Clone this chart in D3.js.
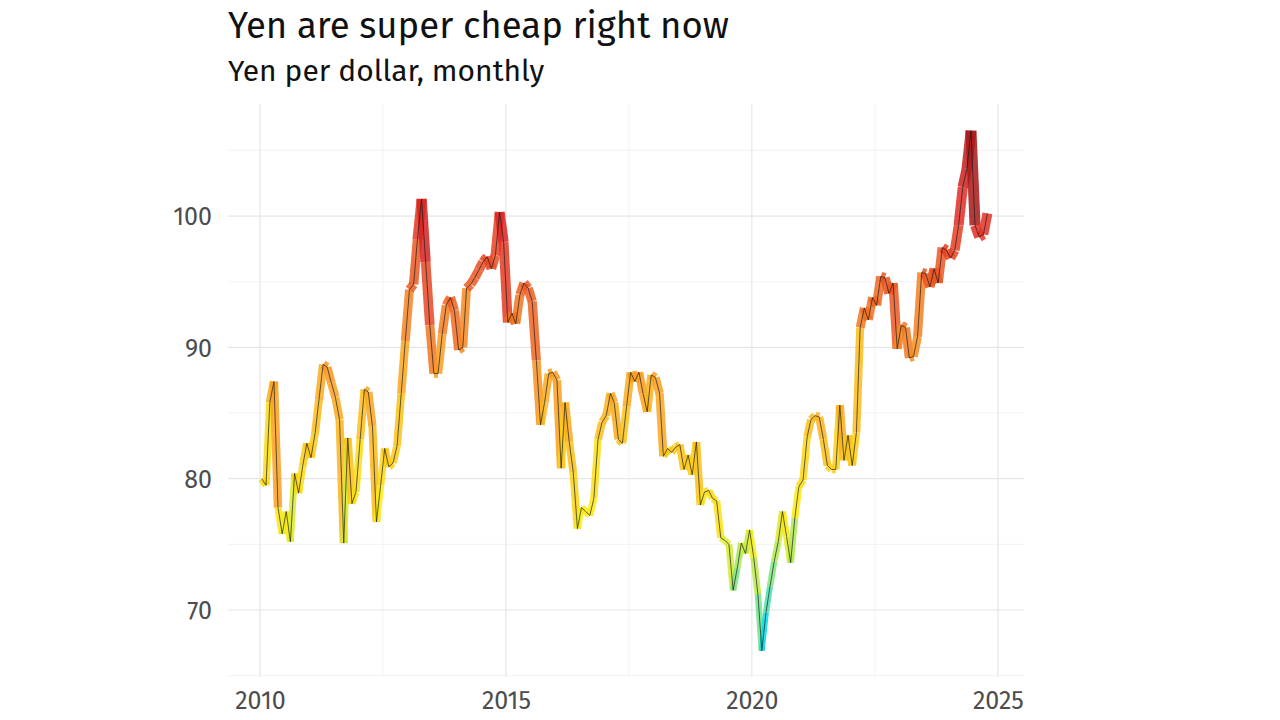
<!DOCTYPE html>
<html>
<head>
<meta charset="utf-8">
<script src="https://cdn.jsdelivr.net/npm/d3@7"></script>
<style>
  html, body { margin: 0; padding: 0; background: #ffffff; }
  svg { display: block; }
</style>
</head>
<body>
<svg id="chart" width="1280" height="720"></svg>
<script>
// ---- data -------------------------------------------------------------
const titleText = "Yen are super cheap right now";
const subtitleText = "Yen per dollar, monthly";
const firstMonth = "2010-01-15";
const yenValues = [
  80.0, 79.5, 85.8, 87.4, 77.8, 75.8, 77.5, 75.2, 80.4, 78.9, 81.0, 82.7,   // 2010
  81.6, 83.5, 86.0, 88.7, 88.5, 87.3, 86.2, 84.5, 75.1, 83.1, 78.1, 79.0,   // 2011
  83.0, 86.8, 86.6, 84.0, 76.7, 79.5, 82.3, 80.9, 81.2, 82.5, 86.5, 90.5,   // 2012
  94.4, 94.8, 98.2, 101.3, 96.5, 91.7, 88.0, 88.0, 91.0, 93.2, 93.8, 92.8,  // 2013
  89.8, 90.0, 94.5, 94.8, 95.3, 95.9, 96.5, 96.9, 96.0, 97.0, 100.3, 98.0,  // 2014
  91.9, 92.6, 91.8, 94.0, 94.9, 94.5, 93.5, 89.0, 84.1, 85.8, 88.0, 88.1,   // 2015
  87.5, 80.8, 85.8, 82.8, 80.5, 76.2, 77.8, 77.5, 77.2, 78.5, 83.0, 84.3,   // 2016
  84.8, 86.5, 85.8, 83.0, 82.7, 85.5, 88.1, 87.4, 88.1, 86.5, 85.1, 87.9,   // 2017
  87.7, 86.5, 81.7, 82.3, 82.0, 82.4, 82.6, 80.7, 81.8, 80.3, 82.8, 78.0,   // 2018
  79.0, 79.1, 78.5, 78.3, 75.5, 75.3, 75.0, 71.5, 73.2, 75.1, 74.3, 76.1,   // 2019
  74.0, 71.2, 66.9, 69.8, 71.8, 73.7, 75.2, 77.5, 75.6, 73.6, 77.0, 79.4,   // 2020
  79.9, 83.2, 84.5, 84.8, 84.7, 83.0, 81.0, 80.7, 80.7, 85.6, 81.4, 83.3,   // 2021
  81.0, 83.5, 91.5, 93.0, 92.1, 93.8, 93.2, 95.4, 95.3, 94.1, 94.9, 89.9,   // 2022
  91.7, 91.5, 89.2, 89.3, 90.8, 95.7, 95.6, 94.6, 96.0, 94.9, 97.6, 97.4,   // 2023
  96.8, 97.4, 99.3, 102.2, 103.6, 106.5, 99.3, 98.4, 98.6, 100.2            // 2024
];
const yTickValues = [70, 80, 90, 100];
const yMinorValues = [65, 75, 85, 95, 105];
const xTickYears = [2010, 2015, 2020, 2025];
const xMinorYears = [2012.5, 2017.5, 2022.5];
const colorStops = [67, 76.5, 88, 100, 106.5];
const colorRange = ["#00dbe8", "#fbee10", "#fa9c20", "#e02424", "#a81818"];

// ---- layout -----------------------------------------------------------
const svg = d3.select("#chart");
const panel = { left: 228, right: 1024, top: 104, bottom: 677 };
const fontFam = "'Fira Sans', 'Noto Sans', 'Open Sans', sans-serif";

const start = new Date(firstMonth);
const data = yenValues.map((v, i) => ({ date: d3.timeMonth.offset(start, i), value: v }));

const yearDate = y => {
  const yr = Math.floor(y);
  const frac = y - yr;
  const a = new Date(yr, 0, 1), b = new Date(yr + 1, 0, 1);
  return new Date(+a + frac * (b - a));
};

const x = d3.scaleTime()
  .domain([yearDate(2009.35), yearDate(2025.53)])
  .range([panel.left, panel.right]);
const y = d3.scaleLinear()
  .domain([64.9, 108.53])
  .range([panel.bottom, panel.top]);
const color = d3.scaleLinear().domain(colorStops).range(colorRange).clamp(true);
const width = d3.scaleLinear().domain([67, 106.5]).range([5.8, 11]);

// ---- grid -------------------------------------------------------------
const grid = svg.append("g");
grid.selectAll(".ymin").data(yMinorValues).join("line")
  .attr("x1", panel.left).attr("x2", panel.right)
  .attr("y1", d => y(d)).attr("y2", d => y(d))
  .attr("stroke", "#f0f0f0").attr("stroke-width", 0.8);
grid.selectAll(".xmin").data(xMinorYears).join("line")
  .attr("x1", d => x(yearDate(d))).attr("x2", d => x(yearDate(d)))
  .attr("y1", panel.top).attr("y2", panel.bottom)
  .attr("stroke", "#f0f0f0").attr("stroke-width", 0.8);
grid.selectAll(".ymaj").data(yTickValues).join("line")
  .attr("x1", panel.left).attr("x2", panel.right)
  .attr("y1", d => y(d)).attr("y2", d => y(d))
  .attr("stroke", "#e6e6e6").attr("stroke-width", 1.2);
grid.selectAll(".xmaj").data(xTickYears).join("line")
  .attr("x1", d => x(yearDate(d))).attr("x2", d => x(yearDate(d)))
  .attr("y1", panel.top).attr("y2", panel.bottom)
  .attr("stroke", "#e6e6e6").attr("stroke-width", 1.2);

// ---- axes (text only, ggplot minimal style) ---------------------------
const yAxis = d3.axisLeft(y).tickValues(yTickValues).tickSize(0).tickPadding(0);
svg.append("g").attr("transform", `translate(${panel.left - 16},0)`).call(yAxis)
  .call(g => g.select(".domain").remove())
  .call(g => g.selectAll("text").attr("font-family", fontFam).attr("font-size", 25)
    .attr("fill", "#4d4d4d").attr("dy", "0.35em"));

const xAxis = d3.axisBottom(x).tickValues(xTickYears.map(yearDate)).tickFormat(d3.timeFormat("%Y"))
  .tickSize(0).tickPadding(0);
svg.append("g").attr("transform", `translate(0,${panel.bottom + 14})`).call(xAxis)
  .call(g => g.select(".domain").remove())
  .call(g => g.selectAll("text").attr("font-family", fontFam).attr("font-size", 25)
    .attr("fill", "#4d4d4d").attr("dy", "0.71em"));

// ---- line: coloured segments, width + colour by starting value --------
const seg = d3.line().x(d => x(d.date)).y(d => y(d.value));
const pairs = d3.pairs(data);
svg.append("g").selectAll("path").data(pairs).join("path")
  .attr("d", d => seg(d))
  .attr("fill", "none")
  .attr("stroke", d => color(d[0].value))
  .attr("stroke-width", d => width(d[0].value))
  .attr("stroke-linecap", "butt")
  .attr("stroke-opacity", 0.85);

svg.append("path").datum(data)
  .attr("d", seg)
  .attr("fill", "none")
  .attr("stroke", "#1a1a1a")
  .attr("stroke-width", 0.9)
  .attr("stroke-opacity", 0.75)
  .attr("stroke-linejoin", "round");

// ---- titles -----------------------------------------------------------
svg.append("text").attr("x", 228).attr("y", 38)
  .attr("font-family", fontFam).attr("font-size", 36.5).attr("fill", "#111")
  .text(titleText);
svg.append("text").attr("x", 228).attr("y", 81)
  .attr("font-family", fontFam).attr("font-size", 30).attr("fill", "#111")
  .text(subtitleText);
</script>
</body>
</html>
